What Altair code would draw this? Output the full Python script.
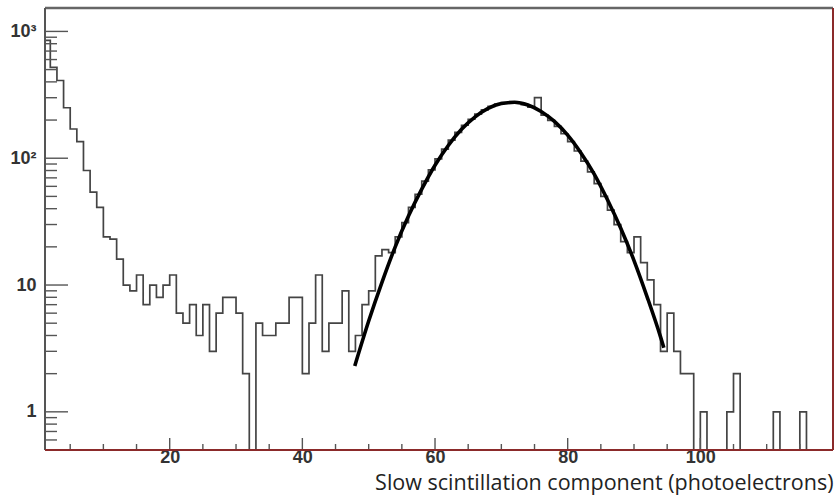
import altair as alt
import pandas as pd

# ---- data ----
# histogram: counts per 1-unit bin, bins start at 1, 2, 3, ...
bin_start = 1
counts = [
    850, 520, 410, 250, 170, 135, 80, 54, 41, 24,      # 1-10
    23, 16, 10, 9, 12, 7, 10, 8, 10, 12,               # 11-20
    6, 5, 7, 4, 7, 3, 6, 8, 8, 6,                      # 21-30
    2, 0, 5, 4, 4, 5, 5, 8, 8, 2,                      # 31-40
    5, 12, 3, 5, 5, 9, 3, 4, 7, 9,                     # 41-50
    17, 19, 18, 24, 31, 41, 52, 66, 81, 99,            # 51-60
    118, 139, 160, 182, 203, 223, 241, 256, 267, 274,  # 61-70
    276, 273, 265, 253, 300, 219, 199, 178, 156, 135,  # 71-80
    114, 95, 78, 63, 50, 39, 30, 22, 18, 24,           # 81-90
    15, 11, 7, 3, 6, 3, 2, 2, 0, 1,                    # 91-100
    0, 0, 0, 1, 2, 0, 0, 0, 0, 0,                      # 101-110
    1, 0, 0, 0, 1, 0, 0, 0, 0,                         # 111-119
]

# fitted curve, points
fit_x = [47.9, 50, 52, 54, 56, 58, 60, 62, 64, 66, 68, 70, 72,
         74, 76, 78, 80, 82, 84, 86, 88, 90, 92, 94, 94.5]
fit_y = [2.3, 5.2, 10.5, 20, 35, 57, 88, 126, 169, 211, 247, 270, 276,
         263, 234, 195, 152, 110, 75, 47, 28, 15.6, 8.0, 3.9, 3.2]

# axis ticks
x_major = [20, 40, 60, 80, 100]
x_minor = [5, 10, 15, 25, 30, 35, 45, 50, 55, 65, 70, 75, 85, 90, 95, 105, 110, 115]
y_major = [1, 10, 100, 1000]
y_minor = [0.6, 0.7, 0.8, 0.9, 2, 3, 4, 5, 6, 7, 8, 9,
           20, 30, 40, 50, 60, 70, 80, 90, 200, 300, 400, 500, 600, 700, 800, 900]

x_title = "Slow scintillation component (photoelectrons)"

# ---- build tables ----
FLOOR = 0.2  # empty bins drawn down to the bottom of the frame (log axis)
edges = [bin_start + i for i in range(len(counts) + 1)]
vals = [c if c > 0 else FLOOR for c in counts]
vals = vals + [vals[-1]]
hist = pd.DataFrame({"x": edges, "y": vals})
fit = pd.DataFrame({"x": fit_x, "y": fit_y})

W, H = 788, 442
xs = alt.Scale(domain=[1.2, 120], nice=False, zero=False)
ys = alt.Scale(type="log", domain=[0.5, 1530], nice=False)

LABEL_FONT = "Liberation Sans"
TICK_COLOR = "#555555"

x_axis = alt.Axis(
    values=x_major, ticks=False, domain=False, grid=False,
    labelFont=LABEL_FONT, labelFontSize=18, labelFontWeight="bold",
    labelColor="#333333", labelBaseline="alphabetic", labelPadding=12,
    title=x_title, titleFont="Open Sans", titleFontSize=21.5,
    titleFontWeight="normal", titleColor="#222222",
    titleAnchor="end", titleAlign="right", titleBaseline="alphabetic",
    titleX=W, titleY=39)
y_axis = alt.Axis(
    values=y_major, ticks=False, domain=False, grid=False,
    labelExpr="datum.value == 1000 ? '10³' : datum.value == 100 ? '10²' : datum.label",
    labelFont=LABEL_FONT, labelFontSize=18, labelFontWeight="bold",
    labelColor="#333333", labelPadding=9, title=None)

hist_layer = alt.Chart(hist).mark_line(
    interpolate="step-after", color="#444444", strokeWidth=1.7, clip=True
).encode(
    x=alt.X("x:Q", scale=xs, axis=x_axis),
    y=alt.Y("y:Q", scale=ys, axis=y_axis),
)

fit_layer = alt.Chart(fit).mark_line(
    interpolate="monotone", color="#000000", strokeWidth=3.6, clip=True
).encode(
    x=alt.X("x:Q", scale=xs, axis=x_axis),
    y=alt.Y("y:Q", scale=ys, axis=y_axis),
)

xtick_minor = alt.Chart(pd.DataFrame({"x": x_minor})).mark_rule(color=TICK_COLOR, strokeWidth=1.4).encode(
    x=alt.X("x:Q", scale=xs, axis=x_axis), y=alt.value(H), y2=alt.value(H - 6))
xtick_major = alt.Chart(pd.DataFrame({"x": x_major})).mark_rule(color=TICK_COLOR, strokeWidth=1.4).encode(
    x=alt.X("x:Q", scale=xs, axis=x_axis), y=alt.value(H), y2=alt.value(H - 12))
ytick_major = alt.Chart(pd.DataFrame({"y": y_major})).mark_rule(color=TICK_COLOR, strokeWidth=1.4).encode(
    y=alt.Y("y:Q", scale=ys, axis=y_axis), x=alt.value(0), x2=alt.value(23))
ytick_minor = alt.Chart(pd.DataFrame({"y": y_minor})).mark_rule(color=TICK_COLOR, strokeWidth=1.4).encode(
    y=alt.Y("y:Q", scale=ys, axis=y_axis), x=alt.value(0), x2=alt.value(12))

frame_top = alt.Chart(pd.DataFrame({"a": [0]})).mark_rule(color="#666666", strokeWidth=2.5).encode(
    x=alt.value(0), x2=alt.value(W), y=alt.value(0))
frame_left = alt.Chart(pd.DataFrame({"a": [0]})).mark_rule(color="#555555", strokeWidth=2).encode(
    x=alt.value(0), y=alt.value(0), y2=alt.value(H))
frame_right = alt.Chart(pd.DataFrame({"a": [0]})).mark_rule(color="#8b2a2a", strokeWidth=2).encode(
    x=alt.value(W), y=alt.value(0), y2=alt.value(H))
frame_bottom = alt.Chart(pd.DataFrame({"a": [0]})).mark_rule(color="#8b2a2a", strokeWidth=2).encode(
    x=alt.value(0), x2=alt.value(W), y=alt.value(H))

chart = alt.layer(
    hist_layer, fit_layer, ytick_major, ytick_minor, xtick_minor, xtick_major,
    frame_top, frame_left, frame_right, frame_bottom,
).properties(
    width=W, height=H,
    padding={"left": 45, "top": 8, "right": 4, "bottom": 47},
    autosize=alt.AutoSizeParams(type="none"),
    background="white",
).configure_view(stroke=None)

chart.save("out.html", embed_options={"renderer": "svg", "actions": False})
